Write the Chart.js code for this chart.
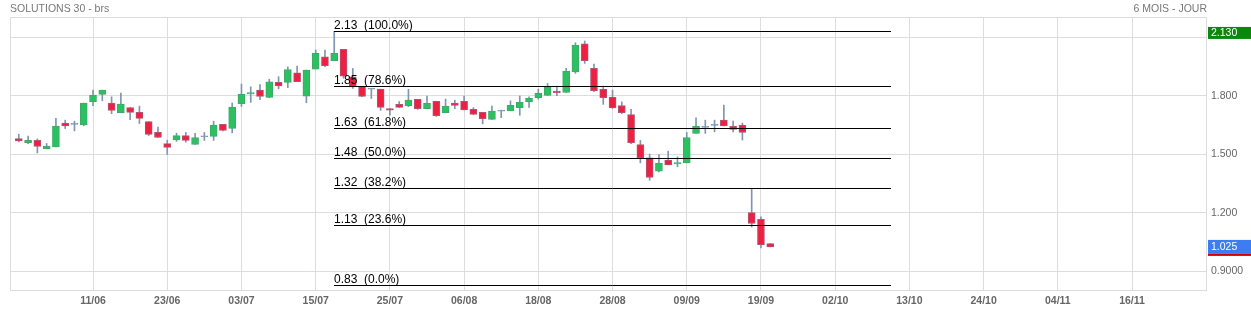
<!DOCTYPE html>
<html>
<head>
<meta charset="utf-8">
<title>SOLUTIONS 30 - brs</title>
<script src="https://cdn.jsdelivr.net/npm/chart.js@4.4.1/dist/chart.umd.min.js"></script>
<style>
  html, body { margin: 0; padding: 0; background: #fff; }
  #wrap { position: relative; width: 1251px; height: 311px; }
</style>
</head>
<body>
<div id="wrap"><canvas id="myChart"></canvas></div>
<script>
// sessions, 30/05 -> 22/09
var days = ["30/05", "02/06", "03/06", "04/06", "05/06", "06/06", "09/06", "10/06",
  "11/06", "12/06", "13/06", "16/06", "17/06", "18/06", "19/06", "20/06",
  "23/06", "24/06", "25/06", "26/06", "27/06", "30/06", "01/07", "02/07",
  "03/07", "04/07", "07/07", "08/07", "09/07", "10/07", "11/07", "14/07",
  "15/07", "16/07", "17/07", "18/07", "21/07", "22/07", "23/07", "24/07",
  "25/07", "28/07", "29/07", "30/07", "31/07", "01/08", "04/08", "05/08",
  "06/08", "07/08", "08/08", "11/08", "12/08", "13/08", "14/08", "15/08",
  "18/08", "19/08", "20/08", "21/08", "22/08", "25/08", "26/08", "27/08",
  "28/08", "29/08", "01/09", "02/09", "03/09", "04/09", "05/09", "08/09",
  "09/09", "10/09", "11/09", "12/09", "15/09", "16/09", "17/09", "18/09",
  "19/09", "22/09"];

var open = [1.581, 1.559, 1.572, 1.528, 1.538, 1.660, 1.653, 1.651,
  1.769, 1.807, 1.762, 1.713, 1.740, 1.715, 1.668, 1.612,
  1.555, 1.574, 1.596, 1.550, 1.590, 1.591, 1.653, 1.632,
  1.759, 1.810, 1.829, 1.792, 1.869, 1.869, 1.918, 1.798,
  1.937, 2.000, 1.980, 2.038, 1.897, 1.848, 1.834, 1.834,
  1.734, 1.756, 1.749, 1.782, 1.734, 1.772, 1.714, 1.762,
  1.772, 1.730, 1.715, 1.679, 1.721, 1.723, 1.739, 1.769,
  1.790, 1.802, 1.824, 1.817, 1.923, 2.066, 1.941, 1.833,
  1.792, 1.750, 1.704, 1.550, 1.482, 1.413, 1.470, 1.451,
  1.456, 1.607, 1.638, 1.648, 1.675, 1.643, 1.650, 1.201,
  1.167, 1.042];
var high = [1.603, 1.593, 1.579, 1.555, 1.685, 1.675, 1.670, 1.762,
  1.829, 1.829, 1.795, 1.814, 1.740, 1.747, 1.668, 1.639,
  1.572, 1.608, 1.612, 1.607, 1.612, 1.670, 1.653, 1.763,
  1.860, 1.846, 1.858, 1.885, 1.898, 1.949, 1.952, 1.932,
  2.035, 2.035, 2.130, 2.038, 1.940, 1.848, 1.838, 1.834,
  1.734, 1.770, 1.833, 1.782, 1.799, 1.772, 1.783, 1.778,
  1.798, 1.739, 1.715, 1.747, 1.726, 1.774, 1.799, 1.794,
  1.834, 1.863, 1.850, 1.941, 2.072, 2.081, 1.963, 1.850,
  1.829, 1.769, 1.730, 1.571, 1.501, 1.499, 1.516, 1.487,
  1.612, 1.687, 1.675, 1.675, 1.752, 1.670, 1.660, 1.321,
  1.179, 1.042];
var low = [1.564, 1.555, 1.507, 1.528, 1.538, 1.632, 1.620, 1.646,
  1.749, 1.774, 1.708, 1.713, 1.677, 1.658, 1.596, 1.586,
  1.499, 1.566, 1.562, 1.550, 1.571, 1.571, 1.620, 1.610,
  1.745, 1.766, 1.780, 1.790, 1.836, 1.841, 1.872, 1.764,
  1.937, 1.949, 1.980, 1.890, 1.838, 1.796, 1.786, 1.725,
  1.701, 1.740, 1.744, 1.730, 1.734, 1.694, 1.714, 1.734,
  1.727, 1.704, 1.656, 1.679, 1.688, 1.723, 1.700, 1.740,
  1.783, 1.802, 1.800, 1.817, 1.915, 1.966, 1.821, 1.756,
  1.735, 1.708, 1.555, 1.456, 1.367, 1.410, 1.446, 1.436,
  1.456, 1.607, 1.607, 1.615, 1.646, 1.615, 1.573, 1.127,
  1.020, 1.025];
var close = [1.569, 1.572, 1.540, 1.542, 1.644, 1.646, 1.653, 1.762,
  1.804, 1.829, 1.725, 1.757, 1.715, 1.684, 1.602, 1.586,
  1.535, 1.596, 1.571, 1.586, 1.592, 1.648, 1.622, 1.742,
  1.807, 1.817, 1.797, 1.872, 1.850, 1.935, 1.872, 1.932,
  2.018, 1.954, 2.018, 1.900, 1.845, 1.797, 1.834, 1.740,
  1.726, 1.740, 1.778, 1.734, 1.761, 1.698, 1.747, 1.750,
  1.727, 1.704, 1.683, 1.721, 1.723, 1.751, 1.766, 1.787,
  1.812, 1.843, 1.816, 1.927, 2.060, 1.980, 1.826, 1.790,
  1.738, 1.713, 1.559, 1.482, 1.381, 1.453, 1.446, 1.458,
  1.586, 1.644, 1.640, 1.648, 1.646, 1.627, 1.612, 1.145,
  1.037, 1.025];

// x labels, one every 8 sessions starting at 11/06
var tickLabels = ["11/06", "23/06", "03/07", "15/07", "25/07", "06/08", "18/08", "28/08",
  "09/09", "19/09", "02/10", "13/10", "24/10", "04/11", "16/11"];
var yTicks = [0.9, 1.2, 1.5, 1.8, 2.1];
var yTickLabels = ["0.9000", "1.200", "1.500", "1.800", ""];

// retracement 0.83 -> 2.13
var fibLow = 0.83;
var fibHigh = 2.13;
var fibRatios = [1, 0.786, 0.618, 0.5, 0.382, 0.236, 0];
var fibFrom = 34, fibTo = 94;

var lastPrice = 1.025;
var topPrice = 2.13;

var FONT = '"Liberation Sans", Arial, sans-serif';
var UP = "#2cc160", UP_LINE = "#3fa86a";
var DOWN = "#ee2040", DOWN_LINE = "#b25478";
var WICK = "#7f96b2";

var bodies = [], wicks = [];
days.forEach(function (d, i) {
  bodies.push({ x: i, y: [Math.min(open[i], close[i]), Math.max(open[i], close[i])] });
  wicks.push({ x: i, y: [low[i], high[i]] });
});

function candleColor(ctx, up, down) {
  var i = ctx.dataIndex;
  if (Math.abs(open[i] - close[i]) < 0.005) return WICK;
  return close[i] >= open[i] ? up : down;
}

// the site cuts the level to 2 decimals instead of rounding
function cut2(v) {
  return (Math.floor(v * 100 + 1e-6) / 100).toFixed(2);
}

var overlay = {
  id: "overlay",
  beforeDatasetsDraw: function (chart) {
    var a = chart.chartArea, ctx = chart.ctx;
    ctx.save();
    ctx.strokeStyle = "#dcdcdc";
    ctx.lineWidth = 1;
    ctx.strokeRect(a.left + 0.5, a.top + 0.5, a.right - a.left - 1, a.bottom - a.top);
    ctx.restore();
  },
  afterDatasetsDraw: function (chart) {
    var xs = chart.scales.x, ys = chart.scales.y, ctx = chart.ctx;
    var x1 = Math.round(xs.getPixelForValue(fibFrom)), x2 = Math.round(xs.getPixelForValue(fibTo));
    ctx.save();
    ctx.font = "12px " + FONT;
    ctx.fillStyle = "#000";
    ctx.strokeStyle = "#000";
    ctx.lineWidth = 1;
    ctx.textBaseline = "alphabetic";
    fibRatios.forEach(function (r) {
      var v = fibLow + (fibHigh - fibLow) * r;
      var py = Math.round(ys.getPixelForValue(v)) + 0.5;
      ctx.beginPath();
      ctx.moveTo(x1, py);
      ctx.lineTo(x2, py);
      ctx.stroke();
      ctx.fillText(cut2(v) + "  (" + (r * 100).toFixed(1) + "%)", x1, py - 2.5);
    });
    ctx.restore();
  },
  afterDraw: function (chart) {
    var a = chart.chartArea, ctx = chart.ctx, ys = chart.scales.y;
    var w = chart.width;
    ctx.save();
    ctx.font = "10.5px " + FONT;
    ctx.fillStyle = "#777";
    ctx.textBaseline = "middle";
    ctx.textAlign = "left";
    ctx.fillText("SOLUTIONS 30 - brs", a.left, 9);
    ctx.textAlign = "right";
    ctx.fillText("6 MOIS - JOUR", a.right, 9);

    // price boxes on the right axis
    ctx.textAlign = "left";
    var yt = ys.getPixelForValue(topPrice) + 1.5;
    ctx.fillStyle = "#0a880a";
    ctx.fillRect(a.right + 1, yt - 6, w - a.right - 1, 12);
    ctx.fillStyle = "#fff";
    ctx.fillText(topPrice.toFixed(3), a.right + 4, yt);

    var yl = ys.getPixelForValue(lastPrice);
    ctx.fillStyle = "#3d7df2";
    ctx.fillRect(a.right + 1, yl - 7, w - a.right - 1, 14);
    ctx.fillStyle = "#d00000";
    ctx.fillRect(a.right + 1, yl + 7, w - a.right - 1, 2);
    ctx.fillStyle = "#fff";
    ctx.fillText(lastPrice.toFixed(3), a.right + 4, yl);
    ctx.restore();
  }
};

var chart = new Chart(document.getElementById("myChart"), {
  type: "bar",
  data: {
    datasets: [
      {
        label: "corps",
        data: bodies,
        grouped: false,
        barThickness: 7,
        minBarLength: 1,
        borderWidth: 1,
        borderSkipped: false,
        backgroundColor: function (c) { return candleColor(c, UP, DOWN); },
        borderColor: function (c) { return candleColor(c, UP_LINE, DOWN_LINE); }
      },
      {
        label: "meches",
        data: wicks,
        grouped: false,
        barThickness: 1,
        borderWidth: 0,
        backgroundColor: WICK
      }
    ]
  },
  options: {
    responsive: true,
    maintainAspectRatio: false,
    animation: false,
    layout: { padding: { left: 10, top: 17, right: 0, bottom: 0 } },
    plugins: {
      legend: { display: false },
      tooltip: { enabled: false },
      title: { display: false }
    },
    scales: {
      x: {
        type: "linear",
        min: -0.95,
        max: 128.08,
        offset: false,
        grid: { color: "#dddddd", offset: false, drawTicks: false },
        border: { display: false },
        afterBuildTicks: function (scale) {
          scale.ticks = tickLabels.map(function (t, k) { return { value: 8 * (k + 1) }; });
        },
        afterFit: function (scale) { scale.height = 21; },
        ticks: {
          autoSkip: false,
          maxRotation: 0,
          padding: 5,
          color: "#666",
          font: { family: FONT, size: 10.5, weight: "bold" },
          callback: function (v) {
            var k = Math.round(v / 8) - 1;
            return tickLabels[k];
          }
        }
      },
      y: {
        position: "right",
        min: 0.804,
        max: 2.204,
        grid: { color: "#dddddd", drawTicks: false },
        border: { display: false },
        afterBuildTicks: function (scale) {
          scale.ticks = yTicks.map(function (v) { return { value: v }; });
        },
        afterFit: function (scale) { scale.width = 44; },
        ticks: {
          padding: 4,
          color: "#666",
          font: { family: FONT, size: 10.5 },
          callback: function (v, idx) { return yTickLabels[idx]; }
        }
      }
    }
  },
  plugins: [overlay]
});
</script>
</body>
</html>
